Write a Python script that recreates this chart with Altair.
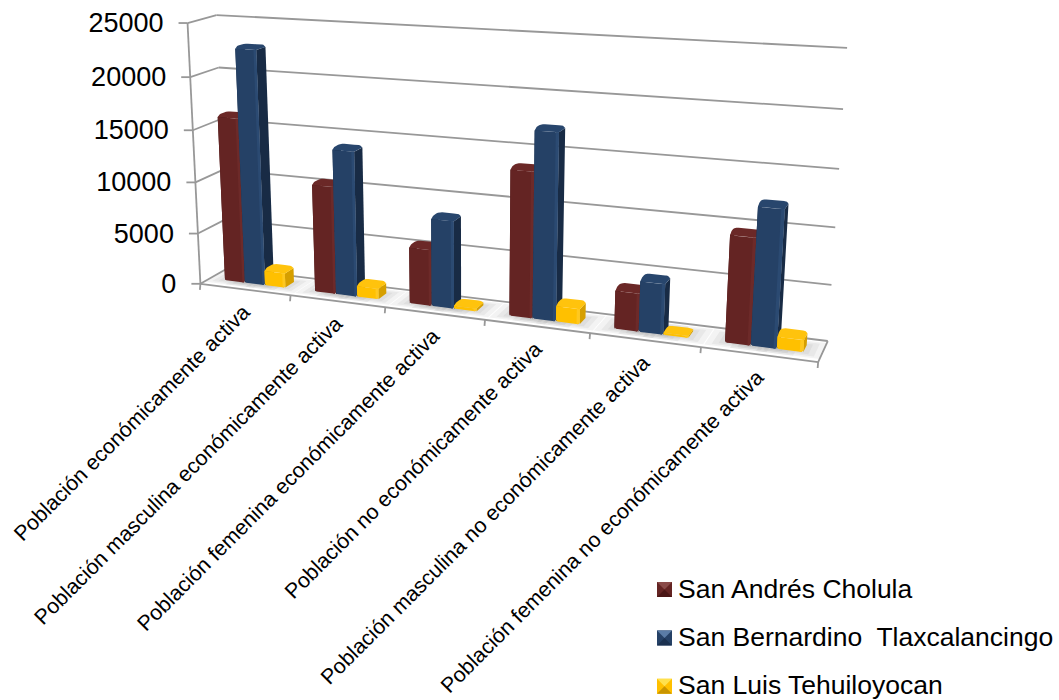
import altair as alt
import numpy as np
import pandas as pd

W, H = 1059, 700
FONT = "Liberation Sans"

categorias = [
    "Población económicamente activa",
    "Población masculina económicamente activa",
    "Población femenina económicamente activa",
    "Población no económicamente activa",
    "Población masculina no económicamente activa",
    "Población femenina no económicamente activa",
]
series = ["San Andrés Cholula", "San Bernardino\u00a0 Tlaxcalancingo", "San Luis Tehuiloyocan"]
san_andres = [16200, 10500, 5500, 13600, 3650, 9650]
san_bernardino = [22750, 14000, 8400, 17250, 4750, 12300]
san_luis = [1600, 1200, 400, 1600, 250, 1260]
valores = [san_andres, san_bernardino, san_luis]
marcas_y = [0, 5000, 10000, 15000, 20000, 25000]
Y_MAX = 25000

# face colours: front, bevelled edge, side, top, light and dark legend edges
tonos = [
    dict(front="#642423", edge="#6d2a29", side="#4a1818", top="#6b2827", hi="#8a4a48", lo="#4a1615"),
    dict(front="#254166", edge="#2b4a72", side="#182b45", top="#28466d", hi="#5a7ca6", lo="#1b3150"),
    dict(front="#ffc000", edge="#ffc81f", side="#d69f00", top="#ffc30d", hi="#ffe14d", lo="#c99500"),
]

# Pinhole camera for the chart box, solved from where its corners fall on the page.
# Box axes: u along the categories, w into the depth, v up the value axis.
esquinas = [
    ((0, 0, 0), (202, 283)), ((1, 0, 0), (818, 363)),
    ((0, 1, 0), (226, 269)), ((1, 1, 0), (828, 340)),
    ((0, 0, 1), (186, 23)), ((0, 1, 1), (218, 15)), ((1, 1, 1), (847, 48)),
]
A, b = [], []
for (u, w, v), (px, py) in esquinas:
    A.append([u, w, v, 1, 0, 0, 0, 0, -px * u, -px * w, -px * v])
    b.append(px)
    A.append([0, 0, 0, 0, u, w, v, 1, -py * u, -py * w, -py * v])
    b.append(py)
cam = np.append(np.linalg.lstsq(np.array(A, float), np.array(b, float), rcond=None)[0], 1).reshape(3, 4)


def proyecta(u, w, v):
    p = cam @ np.array([u, w, v, 1.0])
    return float(p[0] / p[2]), float(p[1] / p[2])


def envolvente(puntos):
    """Upper and lower boundary of a convex polygon, as rows an area mark can draw."""
    pts = sorted(set((round(x, 2), round(y, 2)) for x, y in puntos))

    def cadena(signo):
        hull = []
        for p in pts:
            while len(hull) >= 2:
                (x1, y1), (x2, y2) = hull[-2], hull[-1]
                if signo * ((x2 - x1) * (p[1] - y1) - (y2 - y1) * (p[0] - x1)) <= 0:
                    hull.pop()
                else:
                    break
            hull.append(p)
        return hull

    sup = cadena(1)   # smallest page y
    inf = cadena(-1)  # largest page y
    xs = sorted(set(p[0] for p in sup + inf))
    filas = []
    for x in xs:
        y0 = min(np.interp(x, [p[0] for p in sup], [p[1] for p in sup]), *[p[1] for p in pts if p[0] == x] or [1e9])
        y1 = max(np.interp(x, [p[0] for p in inf], [p[1] for p in inf]), *[p[1] for p in pts if p[0] == x] or [-1e9])
        filas.append((x, float(y0), float(y1)))
    return filas


caras, sombras = [], []
n_cara = 0


def cara(puntos, color):
    global n_cara
    n_cara += 1
    for x, y0, y1 in envolvente(puntos):
        caras.append(dict(x=x, y=y0, y2=y1, color=color, poly=n_cara))


def rect_redondeado(u0, u1, w0, w1, ru, rw):
    """Corner points of a rounded rectangle in the (u, w) plane."""
    out = []
    for cu, cw, su, sw in [(u0 + ru, w0 + rw, -1, -1), (u1 - ru, w0 + rw, 1, -1),
                           (u1 - ru, w1 - rw, 1, 1), (u0 + ru, w1 - rw, -1, 1)]:
        for t in np.linspace(0, np.pi / 2, 4):
            out.append((cu + su * ru * np.cos(t), cw + sw * rw * np.sin(t)))
    return out


BANDA = 1 / 6
INICIO, ANCHO = 0.17, 0.225
W0, W1 = 0.35, 0.69

for i in range(len(categorias)):
    for s, vals in enumerate(valores):
        u0 = (i + INICIO + s * ANCHO) * BANDA
        u1 = u0 + ANCHO * BANDA
        h = vals[i] / Y_MAX
        t = tonos[s]
        # soft shadow on the floor
        for k, e in enumerate([0.7, 0.45, 0.22]):
            du = e * ANCHO * BANDA
            sombras.extend(
                dict(x=x, y=y0, y2=y1, poly=f"{i}-{s}-{k}")
                for x, y0, y1 in envolvente([proyecta(a, b_, 0) for a, b_ in [
                    (u0 - du, W0 - e * 0.3), (u1 + du, W0 - e * 0.3),
                    (u1 + du, W1 + e * 0.3), (u0 - du, W1 + e * 0.3)]])
            )
        ru = 0.16 * ANCHO * BANDA
        rw = 0.16 * (W1 - W0) * 2
        dv = min(0.008, h / 3)
        hb = h - dv
        # left and right walls first, the front covers whichever is hidden
        for un in (u0, u1):
            cara([proyecta(un, W0, 0), proyecta(un, W1, 0), proyecta(un, W1, hb), proyecta(un, W0, hb)], t["side"])
        f = 0.06 * ANCHO * BANDA
        cara([proyecta(u0 + f, W0, 0), proyecta(u1 - f, W0, 0), proyecta(u1, W0, min(dv, hb)), proyecta(u1, W0, hb),
              proyecta(u0, W0, hb), proyecta(u0, W0, min(dv, hb))], t["front"])
        borde = 0.13 * ANCHO * BANDA
        cara([proyecta(u1 - borde, W0, 0), proyecta(u1 - f, W0, 0), proyecta(u1, W0, min(dv, hb)),
              proyecta(u1, W0, hb), proyecta(u1 - borde, W0, hb)], t["edge"])
        tapa = [proyecta(a, b_, h) for a, b_ in rect_redondeado(u0, u1, W0, W1, ru, rw)]
        tapa += [proyecta(u0, W0, hb), proyecta(u1, W0, hb), proyecta(u1, W1, hb), proyecta(u0, W1, hb)]
        cara(tapa, t["top"])

# Legend swatches: small bevelled squares
LEG_X, LEG_Y, LEG_S, LEG_PASO = 657, 582, 15, 48.4
for s, t in enumerate(tonos):
    x0, y0 = LEG_X, LEG_Y + s * LEG_PASO
    x1, y1 = x0 + LEG_S, y0 + LEG_S
    cx, cy = (x0 + x1) / 2, (y0 + y1) / 2
    cara([(x0, y0), (x1, y0), (x1, y1), (x0, y1)], t["front"])
    cara([(x0, y0), (x1, y0), (cx, cy)], t["hi"])
    cara([(x0, y1), (x1, y1), (cx, cy)], t["lo"])

df_caras = pd.DataFrame(caras)
df_sombras = pd.DataFrame(sombras)

# Chart-box lines: gridlines on both walls, floor outline, axis ticks
lineas = []


def linea(a, b_):
    lineas.append(dict(x=a[0], y=a[1], x2=b_[0], y2=b_[1]))


for m in marcas_y:
    v = m / Y_MAX
    frente = proyecta(0, 0, v)
    fondo = proyecta(0, 1, v)
    linea(fondo, proyecta(1, 1, v))
    linea(frente, fondo)
    linea(frente, (frente[0] - 9, frente[1]))
linea(proyecta(0, 0, 0), proyecta(0, 0, 1))
linea(proyecta(0, 0, 0), proyecta(1, 0, 0))
linea(proyecta(1, 0, 0), proyecta(1, 1, 0))
for i in range(len(categorias) + 1):
    p = proyecta(i * BANDA, 0, 0)
    linea(p, (p[0] - 0.5, p[1] + 6))
df_lineas = pd.DataFrame(lineas)

df_ticks = pd.DataFrame([
    dict(x=proyecta(0, 0, m / Y_MAX)[0] - 24, y=proyecta(0, 0, m / Y_MAX)[1] + 1, t=str(m)) for m in marcas_y
])
df_cat = pd.DataFrame([
    dict(x=proyecta((i + 0.5) * BANDA, 0, 0)[0] + 2, y=proyecta((i + 0.5) * BANDA, 0, 0)[1] + 20, t=c)
    for i, c in enumerate(categorias)
])
df_ley = pd.DataFrame([
    dict(x=LEG_X + 21, y=LEG_Y + LEG_S / 2 + s * LEG_PASO, t=n) for s, n in enumerate(series)
])

X = alt.X("x:Q", scale=alt.Scale(domain=[0, W], nice=False, zero=False), axis=None)
Y = alt.Y("y:Q", scale=alt.Scale(domain=[H, 0], nice=False, zero=False), axis=None)

capa_lineas = alt.Chart(df_lineas).mark_rule(color="#989898", strokeWidth=1.8).encode(
    x=X, y=Y, x2="x2:Q", y2="y2:Q")
capa_sombras = alt.Chart(df_sombras).mark_area(color="#7f7f7f", opacity=0.09, orient="vertical").encode(
    x=X, y=Y, y2="y2:Q", detail="poly:N")
capa_caras = alt.Chart(df_caras).mark_area(orient="vertical").encode(
    x=X, y=Y, y2="y2:Q", fill=alt.Fill("color:N", scale=None), detail="poly:N")
capa_ticks = alt.Chart(df_ticks).mark_text(
    font=FONT, fontSize=27, align="right", baseline="middle", color="#000000").encode(x=X, y=Y, text="t:N")
capa_cat = alt.Chart(df_cat).mark_text(
    font=FONT, fontSize=21.3, align="right", baseline="middle", angle=315, color="#000000").encode(x=X, y=Y, text="t:N")
capa_ley = alt.Chart(df_ley).mark_text(
    font=FONT, fontSize=26.5, align="left", baseline="middle", color="#000000").encode(x=X, y=Y, text="t:N")

chart = alt.layer(capa_lineas, capa_sombras, capa_caras, capa_ticks, capa_cat, capa_ley).properties(
    width=W, height=H, padding=0, autosize=alt.AutoSizeParams(type="none"), background="#ffffff"
).configure_view(stroke=None)

chart.save("out.html", embed_options={"renderer": "svg", "actions": False})
